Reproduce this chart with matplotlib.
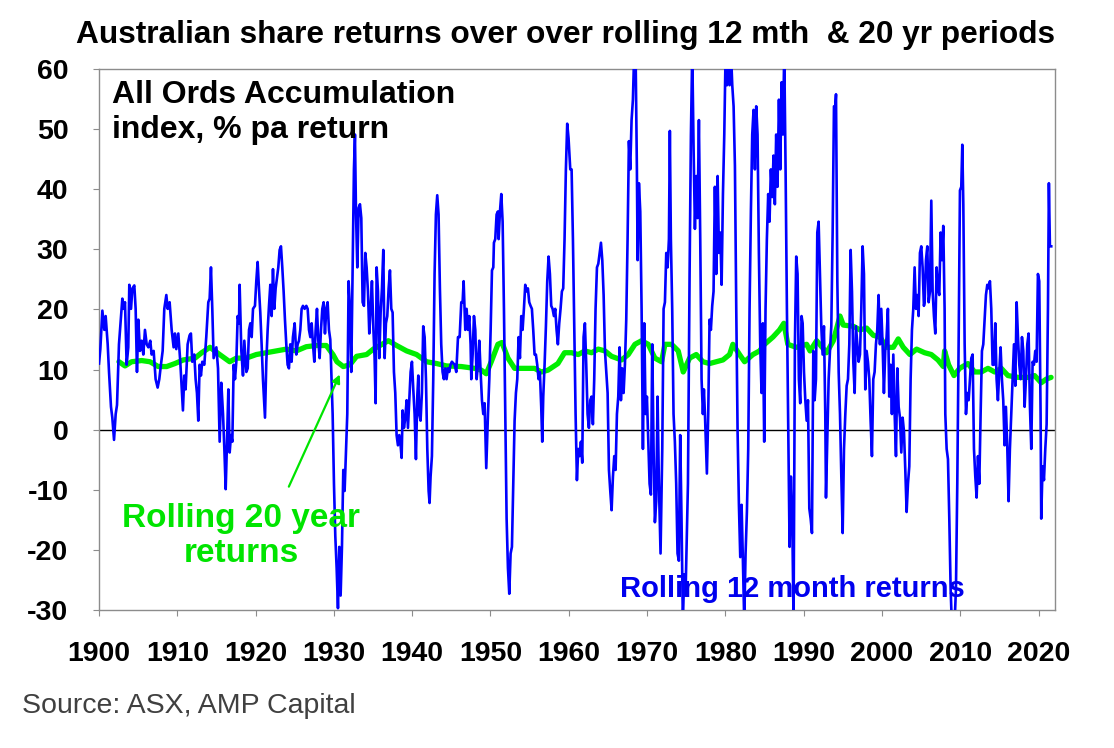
import numpy as np
import matplotlib
matplotlib.use("Agg")
from matplotlib import pyplot as plt

plt.rcParams['font.family'] = ['Liberation Sans', 'DejaVu Sans']
plt.rcParams['axes.unicode_minus'] = False

# ---- rolling 12 month returns (% pa) ----
yrs_1900 = [1900.00, 1900.17, 1900.43, 1900.68, 1900.85, 1901.11, 1901.28, 1901.53, 1901.70, 1901.92,
            1902.13, 1902.30, 1902.55, 1902.72, 1902.98, 1903.15, 1903.32, 1903.53, 1903.74, 1903.87,
            1904.09, 1904.26, 1904.51, 1904.68, 1904.85, 1905.02, 1905.23, 1905.45, 1905.66, 1905.87,
            1906.09, 1906.30, 1906.55, 1906.72, 1906.98, 1907.23, 1907.49, 1907.70, 1907.91, 1908.13,
            1908.34, 1908.60, 1908.77, 1909.02, 1909.28, 1909.53, 1909.70, 1909.87, 1910.13, 1910.38,
            1910.55, 1910.72, 1910.89, 1911.06, 1911.32, 1911.57, 1911.74, 1911.91, 1912.17, 1912.34,
            1912.51, 1912.68, 1912.85, 1913.02, 1913.19, 1913.45, 1913.70, 1913.96, 1914.13, 1914.30,
            1914.47, 1914.64]
ret_1900 = [11.0, 13.4, 19.8, 16.6, 18.9, 14.2, 9.6, 3.8, 2.0, -1.7,
            2.6, 4.1, 14.2, 17.2, 21.8, 20.1, 21.2, 10.8, 13.7, 24.1,
            20.1, 23.5, 24.0, 20.1, 9.6, 18.3, 13.1, 14.8, 12.5, 16.6,
            14.2, 13.7, 14.8, 12.5, 13.1, 8.4, 7.0, 8.4, 10.8, 13.1,
            20.1, 22.4, 20.1, 21.2, 16.6, 13.7, 16.0, 13.4, 16.0, 11.3,
            7.3, 3.2, 9.0, 6.7, 14.2, 15.7, 16.0, 11.3, 12.5, 8.4,
            6.1, 1.5, 10.8, 9.0, 11.3, 10.8, 15.4, 21.2, 21.8, 27.0,
            20.1, 11.9]

yrs_1915 = [1914.99, 1915.20, 1915.41, 1915.62, 1915.84, 1916.01, 1916.18, 1916.35, 1916.52, 1916.69,
            1916.86, 1917.03, 1917.20, 1917.37, 1917.54, 1917.71, 1917.88, 1917.96, 1918.18, 1918.39,
            1918.56, 1918.82, 1918.99, 1919.16, 1919.33, 1919.50, 1919.67, 1919.92, 1920.09, 1920.26,
            1920.43, 1920.60, 1920.77, 1920.94, 1921.20, 1921.37, 1921.54, 1921.71, 1921.88, 1922.05,
            1922.22, 1922.39, 1922.56, 1922.73, 1922.90, 1923.07, 1923.24, 1923.41, 1923.58, 1923.75,
            1923.92, 1924.09, 1924.26, 1924.43, 1924.60, 1924.77, 1924.99, 1925.20, 1925.37, 1925.54,
            1925.71, 1925.88, 1926.05, 1926.26, 1926.48, 1926.65, 1926.82, 1926.99, 1927.16, 1927.33,
            1927.50, 1927.67, 1927.84, 1928.01, 1928.18, 1928.35, 1928.52, 1928.69, 1928.86, 1929.03,
            1929.20, 1929.37, 1929.54]
ret_1915 = [13.7, 10.2, -2.0, 7.8, 2.6, -3.2, -9.9, -2.0, 6.7, -3.8,
            -0.9, -2.0, 10.8, 8.4, 11.3, 18.9, 17.7, 24.1, 13.1, 9.0,
            14.8, 9.6, 10.2, 16.6, 17.7, 15.4, 20.1, 20.6, 24.7, 27.9,
            23.5, 19.5, 14.2, 8.4, 2.0, 11.3, 16.6, 20.6, 24.1, 18.9,
            26.7, 20.1, 23.5, 25.3, 27.0, 29.9, 30.5, 27.0, 23.0, 18.3,
            14.2, 10.8, 10.2, 14.2, 11.3, 15.4, 17.7, 12.5, 14.2, 14.8,
            16.6, 20.1, 20.6, 20.1, 20.6, 20.1, 16.6, 15.4, 17.7, 14.2,
            11.3, 16.6, 20.1, 14.8, 11.9, 16.6, 20.1, 21.2, 16.0, 20.1,
            21.2, 16.6, 15.0]

yrs_1930 = [1929.84, 1930.01, 1930.18, 1930.35, 1930.52, 1930.69, 1930.86, 1931.03, 1931.20, 1931.37,
            1931.54, 1931.71, 1931.88, 1932.05, 1932.22, 1932.39, 1932.56, 1932.69, 1932.82, 1932.99,
            1933.16, 1933.33, 1933.50, 1933.67, 1933.84, 1934.01, 1934.18, 1934.35, 1934.52, 1934.69,
            1934.86, 1935.03, 1935.20, 1935.33, 1935.46, 1935.63, 1935.80, 1935.97, 1936.14, 1936.31,
            1936.48, 1936.65, 1936.82, 1936.99, 1937.16, 1937.33, 1937.50, 1937.67, 1937.84, 1938.01,
            1938.18, 1938.35, 1938.52, 1938.65, 1938.78, 1938.95, 1939.12, 1939.29, 1939.46, 1939.63,
            1939.80, 1939.97, 1940.14, 1940.31, 1940.48, 1940.65, 1940.78, 1940.90, 1941.07, 1941.24,
            1941.41, 1941.59, 1941.76, 1941.93, 1942.10, 1942.22, 1942.35, 1942.52, 1942.69, 1942.86,
            1943.03, 1943.20, 1943.37, 1943.54, 1943.71, 1943.88, 1944.05, 1944.22, 1944.39, 1944.56,
            1944.73, 1944.90, 1945.07]
ret_1930 = [2.6, -9.0, -17.7, -23.0, -29.7, -19.5, -27.6, -19.5, -6.7, -10.2,
            -3.8, 2.6, 24.7, 20.1, 9.6, 26.5, 43.3, 49.1, 36.3, 27.0,
            36.9, 37.5, 35.2, 21.2, 20.6, 29.4, 27.0, 23.0, 16.0, 20.1,
            24.7, 17.2, 11.9, 4.4, 27.0, 23.0, 11.9, 19.5, 23.5, 29.9,
            11.9, 17.7, 18.9, 23.5, 26.5, 20.1, 19.5, 9.6, 6.1, -0.9,
            -2.6, -0.9, -2.6, -4.7, 3.2, 0.3, 2.0, 4.9, 0.3, 4.9,
            9.6, 11.3, 6.7, 2.6, -4.9, 5.5, 9.0, 2.6, 1.5, 6.1,
            17.2, 15.4, 8.4, -3.2, -10.2, -12.2, -7.8, -4.4, 8.4, 25.9,
            35.8, 39.0, 35.8, 23.5, 14.2, 9.6, 8.4, 10.2, 8.4, 10.2,
            9.6, 10.8, 11.3]

yrs_1945 = [1945.42, 1945.63, 1945.85, 1946.06, 1946.27, 1946.44, 1946.57, 1946.78, 1946.95, 1947.12,
            1947.29, 1947.46, 1947.55, 1947.72, 1947.89, 1948.06, 1948.23, 1948.40, 1948.57, 1948.74,
            1948.91, 1949.08, 1949.25, 1949.46, 1949.68, 1949.85, 1950.02, 1950.19, 1950.36, 1950.44,
            1950.61, 1950.78, 1950.95, 1951.04, 1951.21, 1951.38, 1951.55, 1951.72, 1951.89, 1952.06,
            1952.23, 1952.40, 1952.57, 1952.74, 1952.91, 1953.08, 1953.25, 1953.42, 1953.59, 1953.76,
            1953.93, 1954.10, 1954.27, 1954.44, 1954.61, 1954.78, 1954.95, 1955.12, 1955.29, 1955.46,
            1955.63, 1955.80, 1955.97, 1956.14, 1956.31, 1956.48, 1956.61, 1956.74, 1956.91, 1957.08,
            1957.25, 1957.42, 1957.59, 1957.76, 1957.93, 1958.10, 1958.27, 1958.44, 1958.61, 1958.78,
            1958.95, 1959.12, 1959.29, 1959.46, 1959.63, 1959.80, 1959.97]
ret_1945 = [10.8, 9.6, 15.4, 15.4, 21.2, 21.2, 24.7, 16.6, 20.1, 16.6,
            18.9, 14.2, 8.4, 12.5, 18.9, 16.6, 8.4, 10.8, 14.8, 9.6,
            4.9, 2.6, 4.4, -6.4, 2.6, 8.4, 16.6, 26.5, 27.0, 31.1,
            31.7, 35.8, 36.3, 31.7, 36.3, 39.2, 34.6, 20.1, 2.6, -14.8,
            -23.0, -27.3, -20.6, -19.5, -9.0, 1.5, 6.1, 8.4, 15.4, 11.9,
            18.9, 16.6, 20.1, 24.1, 23.0, 23.5, 21.2, 20.6, 20.1, 16.6,
            12.5, 12.5, 10.8, 8.4, 9.6, 3.8, -2.0, 5.5, 10.8, 17.2,
            24.7, 28.8, 25.9, 20.6, 20.1, 18.9, 20.1, 16.6, 14.2, 17.7,
            20.1, 23.0, 23.5, 31.7, 43.3, 50.9, 48.5]

yrs_1960 = [1960.19, 1960.36, 1960.53, 1960.70, 1960.87, 1961.04, 1961.21, 1961.38, 1961.55, 1961.72,
            1961.89, 1962.06, 1962.23, 1962.40, 1962.57, 1962.74, 1962.91, 1963.08, 1963.25, 1963.42,
            1963.60, 1963.77, 1963.94, 1964.11, 1964.28, 1964.45, 1964.62, 1964.79, 1964.96, 1965.13,
            1965.30, 1965.47, 1965.64, 1965.81, 1965.98, 1966.15, 1966.32, 1966.49, 1966.66, 1966.83,
            1967.00, 1967.17, 1967.34, 1967.51, 1967.68, 1967.85, 1968.02, 1968.19, 1968.36, 1968.53,
            1968.70, 1968.79, 1968.96, 1969.13, 1969.30, 1969.47, 1969.64, 1969.81, 1969.98, 1970.15,
            1970.32, 1970.49, 1970.66, 1970.83, 1971.00, 1971.17, 1971.34, 1971.51, 1971.72, 1971.94,
            1972.11, 1972.28, 1972.45, 1972.62, 1972.79, 1972.91, 1973.04, 1973.21, 1973.38, 1973.55,
            1973.72, 1973.89, 1974.06, 1974.23, 1974.40, 1974.57, 1974.74]
ret_1960 = [43.3, 43.3, 31.7, 16.6, 2.6, -8.4, -3.2, -4.4, -2.0, -5.5,
            15.4, 17.7, 10.8, 2.6, 0.3, 4.9, 5.5, 0.9, 8.4, 20.1,
            27.0, 27.6, 29.4, 31.1, 28.2, 22.4, 13.1, 9.6, 6.1, -6.7,
            -10.2, -13.4, -7.8, -4.4, -6.7, 2.6, 5.5, 13.7, 4.9, 10.2,
            6.1, 10.8, 18.3, 31.7, 48.0, 43.3, 51.5, 54.9, 63.0, 63.0,
            43.3, 28.2, 41.0, 36.3, 20.1, -3.2, 17.7, 2.6, 5.5, -2.0,
            -9.0, -10.8, 14.2, -3.2, -15.4, -11.9, 5.5, -9.0, -20.6, -3.2,
            20.1, 21.2, 29.4, 27.0, 31.7, 49.7, 31.7, 20.1, 2.6, -2.0,
            -9.0, -20.6, -21.8, -0.9, -14.8, -32.0, -24.1]

yrs_1975 = [1974.91, 1975.01, 1975.22, 1975.43, 1975.60, 1975.77, 1975.94, 1976.11, 1976.28, 1976.45,
            1976.62, 1976.79, 1976.96, 1977.13, 1977.26, 1977.39, 1977.64, 1977.81, 1977.98, 1978.15,
            1978.32, 1978.49, 1978.66, 1978.84, 1979.01, 1979.18, 1979.35, 1979.52, 1979.69, 1979.86,
            1980.03, 1980.20, 1980.37, 1980.54, 1980.71, 1980.88, 1981.05, 1981.22, 1981.39, 1981.56,
            1981.73, 1981.90, 1982.07, 1982.24, 1982.41, 1982.58, 1982.75, 1982.92, 1983.09, 1983.26,
            1983.43, 1983.60, 1983.77, 1983.94, 1984.11, 1984.28, 1984.45, 1984.62, 1984.79, 1984.96,
            1985.13, 1985.30, 1985.47, 1985.64, 1985.81, 1985.98, 1986.15, 1986.32, 1986.49, 1986.66,
            1986.84, 1987.01, 1987.18, 1987.35, 1987.52, 1987.69, 1987.86, 1988.03, 1988.20, 1988.37,
            1988.54, 1988.71, 1988.88, 1989.05, 1989.22, 1989.39, 1989.56, 1989.73, 1989.87]
ret_1975 = [-27.6, -21.8, -9.0, 25.9, 49.1, 63.0, 46.8, 33.4, 42.2, 35.2,
            51.5, 31.7, 8.4, 2.6, 6.7, 2.6, -7.3, 2.6, 18.3, 16.6,
            20.6, 23.0, 40.4, 25.9, 42.2, 29.4, 32.8, 24.1, 39.2, 49.1,
            63.0, 57.3, 63.0, 57.3, 63.0, 57.3, 53.8, 43.9, 20.1, -0.3,
            -12.5, -21.2, -12.5, -21.8, -32.0, -20.6, -13.7, -3.2, 20.1, 36.3,
            49.1, 53.2, 43.3, 53.8, 49.1, 29.4, 14.2, 6.1, 17.7, -2.0,
            20.1, 31.7, 39.2, 34.6, 43.3, 38.7, 45.6, 37.5, 49.1, 40.4,
            54.9, 43.3, 57.8, 49.1, 63.0, 43.3, 20.1, -0.3, -19.5, -7.8,
            -14.8, -32.0, 14.2, 28.8, 25.9, 8.4, 4.4, 18.9, 17.7]

yrs_1990 = [1990.04, 1990.21, 1990.38, 1990.55, 1990.72, 1990.89, 1991.06, 1991.23, 1991.40, 1991.57,
            1991.74, 1991.91, 1992.08, 1992.25, 1992.42, 1992.59, 1992.76, 1992.85, 1993.02, 1993.19,
            1993.36, 1993.53, 1993.70, 1993.87, 1994.04, 1994.13, 1994.30, 1994.47, 1994.64, 1994.81,
            1994.98, 1995.15, 1995.32, 1995.49, 1995.66, 1995.83, 1996.00, 1996.17, 1996.34, 1996.51,
            1996.68, 1996.85, 1997.02, 1997.19, 1997.36, 1997.53, 1997.70, 1997.87, 1998.04, 1998.21,
            1998.38, 1998.55, 1998.72, 1998.89, 1999.06, 1999.23, 1999.40, 1999.57, 1999.74, 1999.91,
            2000.08, 2000.25, 2000.42, 2000.59, 2000.76, 2000.93, 2001.10, 2001.27, 2001.45, 2001.62,
            2001.79, 2001.96, 2002.13, 2002.30, 2002.47, 2002.64, 2002.81, 2002.98, 2003.15, 2003.32,
            2003.49, 2003.66, 2003.83, 2004.00, 2004.17, 2004.34, 2004.51, 2004.68, 2004.85, 2005.02,
            2005.19, 2005.36]
ret_1990 = [9.6, 4.9, 1.5, 4.9, -13.1, -14.8, -17.2, 13.1, 4.9, 8.4,
            32.8, 34.6, 25.9, 17.2, 12.5, 17.2, 2.6, -11.3, -1.5, 8.4,
            13.1, 17.2, 32.8, 53.8, 53.8, 55.8, 24.7, 9.6, 2.6, -7.8,
            -17.2, -3.2, 2.6, 7.3, 8.4, 14.2, 29.9, 23.0, 11.3, 6.1,
            17.2, 14.2, 11.3, 12.5, 20.1, 30.5, 25.9, 6.7, 13.1, 11.3,
            8.4, 1.5, -4.4, 8.4, 9.6, 14.2, 16.6, 22.4, 14.2, 20.1,
            14.2, 6.1, 13.1, 15.4, 20.1, 5.5, 10.8, 2.6, 12.5, 2.6,
            -4.4, 10.2, 3.8, 2.0, -3.8, 2.0, -0.3, -6.7, -13.7, -9.0,
            -6.1, 8.4, 16.6, 20.1, 27.0, 20.1, 22.4, 18.9, 29.4, 30.5,
            27.0, 20.6]

yrs_2005 = [2005.45, 2005.62, 2005.79, 2005.96, 2006.13, 2006.30, 2006.47, 2006.64, 2006.81, 2006.98,
            2007.15, 2007.32, 2007.49, 2007.66, 2007.83, 2008.00, 2008.09, 2008.26, 2008.43, 2008.60,
            2008.77, 2008.94, 2009.11, 2009.28, 2009.45, 2009.62, 2009.79, 2009.96, 2010.13, 2010.26,
            2010.39, 2010.56, 2010.73, 2010.90, 2011.07, 2011.24, 2011.41, 2011.58, 2011.75, 2011.92,
            2012.09, 2012.26, 2012.43, 2012.60, 2012.77, 2012.94, 2013.11, 2013.28, 2013.45, 2013.62,
            2013.79, 2013.96, 2014.13, 2014.30, 2014.47, 2014.64, 2014.81, 2014.98, 2015.15, 2015.32,
            2015.49, 2015.66, 2015.83, 2016.00, 2016.17, 2016.34, 2016.51, 2016.69, 2016.86, 2017.03,
            2017.20, 2017.37, 2017.54, 2017.71, 2017.88, 2018.05, 2018.22, 2018.39, 2018.56, 2018.73,
            2018.90, 2019.07, 2019.24, 2019.41, 2019.58, 2019.75, 2019.92, 2020.09, 2020.26, 2020.34,
            2020.51, 2020.69, 2020.86, 2021.03, 2021.20, 2021.32, 2021.45, 2021.62]
ret_2005 = [21.2, 28.2, 30.5, 21.2, 23.0, 38.1, 23.0, 18.9, 16.0, 27.0,
            23.5, 22.4, 32.8, 28.2, 33.9, 20.1, 2.6, -3.2, -4.9, -14.8,
            -26.5, -33.0, -34.0, -32.0, -26.5, -9.0, 14.2, 39.8, 40.4, 47.4,
            37.5, 14.2, 2.6, 6.1, 4.9, 8.4, 11.9, 12.5, -3.2, -7.8,
            -11.3, -4.4, -9.0, 2.6, 13.1, 14.2, 18.3, 22.4, 24.1, 23.5,
            24.7, 20.1, 10.8, 10.8, 17.7, 8.4, 4.9, 9.6, 13.7, 8.4,
            4.9, -2.6, 3.8, -2.6, -11.9, -3.2, 2.6, 8.4, 14.2, 7.3,
            21.2, 15.4, 10.8, 8.4, 15.4, 13.1, 3.8, 8.4, 14.2, 16.0,
            3.8, -3.2, 11.3, 10.8, 13.1, 11.3, 25.9, 24.7, 2.6, -14.8,
            -6.1, -8.4, -3.2, 0.9, 20.1, 41.0, 30.5, 30.5]

# ---- rolling 20 year returns (% pa) ----
r20_years = [1902.55, 1903.32, 1904.17, 1905.45, 1906.51, 1907.57, 1908.64, 1909.70, 1910.77, 1912.26,
             1913.11, 1914.17, 1915.41, 1916.69, 1917.54, 1918.80, 1920.09, 1921.37, 1922.65, 1923.92,
             1925.20, 1926.47, 1927.75, 1929.03, 1929.88, 1930.39, 1931.20, 1932.05, 1932.90, 1934.18,
             1935.03, 1935.88, 1936.95, 1938.01, 1939.29, 1940.56, 1941.84, 1943.12, 1944.39, 1946.27,
             1947.97, 1948.83, 1949.46, 1950.10, 1950.95, 1951.46, 1952.23, 1953.08, 1954.36, 1955.63,
             1956.49, 1957.34, 1958.61, 1959.46, 1960.36, 1961.21, 1962.06, 1962.91, 1963.77, 1964.62,
             1965.47, 1966.74, 1967.60, 1968.45, 1969.30, 1970.15, 1971.00, 1971.85, 1972.28, 1973.13,
             1973.98, 1974.62, 1975.43, 1976.28, 1977.13, 1977.98, 1978.84, 1979.69, 1980.54, 1980.96,
             1981.81, 1982.45, 1983.52, 1984.37, 1985.01, 1986.07, 1986.92, 1987.47, 1987.98, 1989.05,
             1990.38, 1990.81, 1991.66, 1992.93, 1993.79, 1994.64, 1995.06, 1996.34, 1997.19, 1998.04,
             1998.89, 1999.74, 2000.59, 2001.45, 2002.08, 2002.72, 2003.57, 2004.42, 2005.45, 2006.30,
             2007.15, 2007.83, 2008.00, 2008.51, 2009.20, 2009.92, 2010.98, 2011.83, 2012.69, 2013.54,
             2014.39, 2015.24, 2016.09, 2017.37, 2018.64, 2019.49, 2020.34, 2020.98, 2021.60]
r20_vals = [11.3, 10.6, 11.3, 11.5, 11.3, 10.5, 10.5, 11.0, 11.6, 11.9,
            12.8, 13.7, 12.5, 11.3, 11.9, 11.9, 12.5, 12.8, 13.1, 13.4,
            13.1, 13.8, 14.0, 14.0, 12.5, 11.3, 10.5, 10.8, 12.2, 12.5,
            13.4, 14.0, 14.8, 14.0, 13.1, 12.5, 11.3, 11.0, 10.6, 10.5,
            10.2, 9.9, 9.3, 11.3, 14.2, 14.5, 11.9, 10.2, 10.2, 10.2,
            9.6, 9.9, 11.0, 12.8, 12.8, 12.5, 13.1, 12.8, 13.4, 13.1,
            12.2, 11.6, 12.5, 14.2, 14.8, 14.2, 11.9, 11.3, 14.2, 14.2,
            13.1, 9.6, 11.9, 12.5, 11.3, 11.0, 11.3, 11.6, 12.5, 14.2,
            12.5, 11.3, 12.5, 13.1, 14.2, 15.4, 16.6, 17.7, 14.2, 13.7,
            14.2, 13.1, 14.8, 12.8, 14.8, 18.9, 17.4, 17.2, 16.6, 16.9,
            15.7, 15.4, 13.7, 13.7, 15.1, 13.7, 12.5, 13.4, 12.8, 12.5,
            11.6, 10.5, 13.1, 10.8, 9.0, 10.2, 11.0, 9.6, 9.6, 10.2,
            9.6, 10.2, 9.0, 8.7, 8.7, 9.0, 7.8, 8.4, 8.7]

x_ticks = list(range(1900, 2021, 10))
y_ticks = list(range(-30, 61, 10))

r12_years = yrs_1900 + yrs_1915 + yrs_1930 + yrs_1945 + yrs_1960 + yrs_1975 + yrs_1990 + yrs_2005
r12_vals = ret_1900 + ret_1915 + ret_1930 + ret_1945 + ret_1960 + ret_1975 + ret_1990 + ret_2005

W, H = 1114, 748
fig = plt.figure(figsize=(W / 100, H / 100), dpi=100)
ax = fig.add_axes([99 / W, 1 - 610 / H, (1055 - 99) / W, (610 - 69) / H])

ax.plot(r20_years, r20_vals, color='#00EE00', lw=3.8, solid_capstyle='round', zorder=2)
ax.plot(r12_years, r12_vals, color='#0000FF', lw=1.9, zorder=3)
ax.axhline(0, color='black', lw=1.0, zorder=1)

ax.set_xlim(1900, 2022.1)
ax.set_ylim(-30, 60)
ax.set_xticks(x_ticks)
ax.set_yticks(y_ticks)
for sp in ax.spines.values():
    sp.set_color('#8c8c8c')
    sp.set_linewidth(1.0)
ax.tick_params(axis='both', direction='out', length=4, color='#8c8c8c',
               labelsize=20.5, pad=18)
for lab in ax.get_xticklabels() + ax.get_yticklabels():
    lab.set_fontweight('bold')

# texts
fig.text(565 / W, 1 - 35 / H, "Australian share returns over over rolling 12 mth  & 20 yr periods",
         ha='center', va='center', fontsize=22.8, fontweight='bold')
fig.text(112 / W, 1 - 80 / H, "All Ords Accumulation\nindex, % pa return",
         ha='left', va='top', fontsize=23, fontweight='bold', linespacing=1.2)
fig.text(241 / W, 1 - 503 / H, "Rolling 20 year\nreturns", ha='center', va='top',
         fontsize=24, fontweight='bold', color='#00E400', linespacing=1.15)
fig.text(620 / W, 1 - 589 / H, "Rolling 12 month returns", ha='left', va='center',
         fontsize=21, fontweight='bold', color='#0000EE')
fig.text(22 / W, 1 - 706 / H, "Source: ASX, AMP Capital", ha='left', va='center',
         fontsize=20.5, color='#404040')

# arrow from label to 20 year line
ax.annotate("", xy=(1930.9, 9.6), xytext=(1924.1, -9.9),
            arrowprops=dict(arrowstyle='-|>', color='#00E400', lw=1.6, mutation_scale=12))

fig.savefig("out.png", dpi=100)
